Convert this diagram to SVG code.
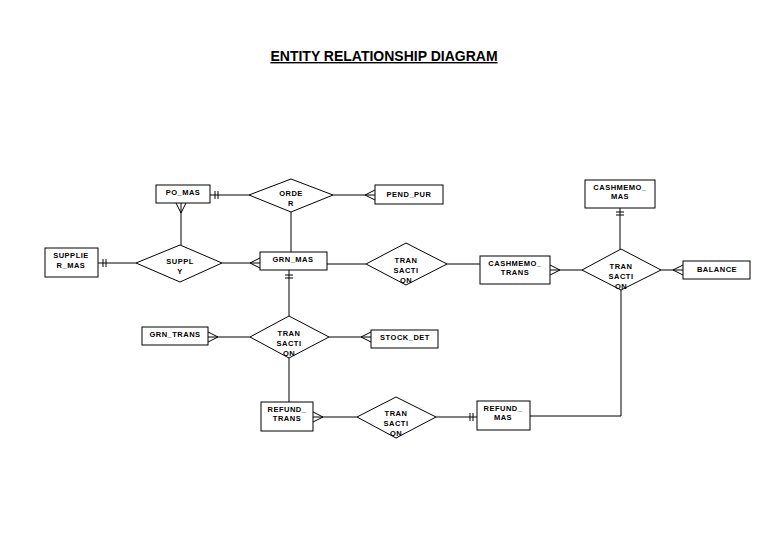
<svg xmlns="http://www.w3.org/2000/svg" width="768" height="543" viewBox="0 0 768 543">
<style>
.b{fill:#fff;stroke:#000;stroke-width:1}
.l{fill:none;stroke:#000;stroke-width:1}
text{font-family:"Liberation Sans",Arial,sans-serif;font-size:7.5px;font-weight:bold;text-anchor:middle;letter-spacing:0.5px}
.t{font-size:14px;letter-spacing:0;text-decoration:underline}
</style>
<rect width="768" height="543" fill="#fff"/>
<text class="t" x="384" y="61">ENTITY RELATIONSHIP DIAGRAM</text>
<g id="connectors" class="l">
<path d="M210 195H249M333 195H375M291 212V252M181 203V245M98 263H136M222 263H260M327 264H366M447 264H480M550 270H582M661 270H683M620 208V249M289 270V316M208 337H250M329 337H371M289 358V402M313 417H357M436 417H477M530 416H621V290"/>
<path d="M215 191V199M218 191V199"/>
<path d="M365 195L375 190M365 195L375 200"/>
<path d="M181 213L176 203M181 213L186 203"/>
<path d="M103 259V267M106 259V267"/>
<path d="M250 263L260 258M250 263L260 268"/>
<path d="M560 270L550 265M560 270L550 275"/>
<path d="M673 270L683 265M673 270L683 275"/>
<path d="M616 212H624M616 215H624"/>
<path d="M285 275H293M285 278H293"/>
<path d="M218 337L208 332M218 337L208 342"/>
<path d="M361 337L371 332M361 337L371 342"/>
<path d="M323 417L313 412M323 417L313 422"/>
<path d="M470 413V421M473 413V421"/>
</g>
<g id="PO_MAS"><rect class="b" x="156" y="185" width="54" height="18"/><text x="183" y="195">PO_MAS</text></g>
<g id="ORDER"><path class="b" d="M249 195L291 179L333 195L291 212Z"/><text x="291" y="196">ORDE</text><text x="291" y="206">R</text></g>
<g id="PEND_PUR"><rect class="b" x="375" y="185" width="68" height="19"/><text x="409" y="197">PEND_PUR</text></g>
<g id="SUPPLIER_MAS"><rect class="b" x="45" y="248" width="53" height="29"/><text x="71" y="258">SUPPLIE</text><text x="71" y="268">R_MAS</text></g>
<g id="SUPPLY"><path class="b" d="M136 263L180 245L222 263L180 282Z"/><text x="180" y="264">SUPPL</text><text x="180" y="274">Y</text></g>
<g id="GRN_MAS"><rect class="b" x="260" y="252" width="67" height="18"/><text x="293" y="262">GRN_MAS</text></g>
<g id="TRANSACTION1"><path class="b" d="M366 264L406 243L447 264L406 285Z"/><text x="406" y="263">TRAN</text><text x="406" y="273">SACTI</text><text x="406" y="283">ON</text></g>
<g id="CASHMEMO_TRANS"><rect class="b" x="480" y="256" width="70" height="28"/><text x="515" y="266">CASHMEMO_</text><text x="515" y="275">TRANS</text></g>
<g id="CASHMEMO_MAS"><rect class="b" x="585" y="180" width="70" height="28"/><text x="620" y="190">CASHMEMO_</text><text x="620" y="199">MAS</text></g>
<g id="TRANSACTION2"><path class="b" d="M582 270L621 249L661 270L621 290Z"/><text x="621" y="269">TRAN</text><text x="621" y="279">SACTI</text><text x="621" y="289">ON</text></g>
<g id="BALANCE"><rect class="b" x="683" y="261" width="67" height="18"/><text x="717" y="272">BALANCE</text></g>
<g id="GRN_TRANS"><rect class="b" x="142" y="327" width="66" height="18"/><text x="175" y="337">GRN_TRANS</text></g>
<g id="TRANSACTION3"><path class="b" d="M250 337L289 316L329 337L289 358Z"/><text x="289" y="336">TRAN</text><text x="289" y="346">SACTI</text><text x="289" y="356">ON</text></g>
<g id="STOCK_DET"><rect class="b" x="371" y="330" width="67" height="18"/><text x="405" y="340">STOCK_DET</text></g>
<g id="REFUND_TRANS"><rect class="b" x="261" y="402" width="52" height="29"/><text x="287" y="412">REFUND_</text><text x="287" y="421">TRANS</text></g>
<g id="TRANSACTION4"><path class="b" d="M357 417L396 397L436 417L396 438Z"/><text x="396" y="416">TRAN</text><text x="396" y="426">SACTI</text><text x="396" y="436">ON</text></g>
<g id="REFUND_MAS"><rect class="b" x="477" y="401" width="53" height="29"/><text x="503" y="411">REFUND_</text><text x="503" y="420">MAS</text></g>
</svg>
